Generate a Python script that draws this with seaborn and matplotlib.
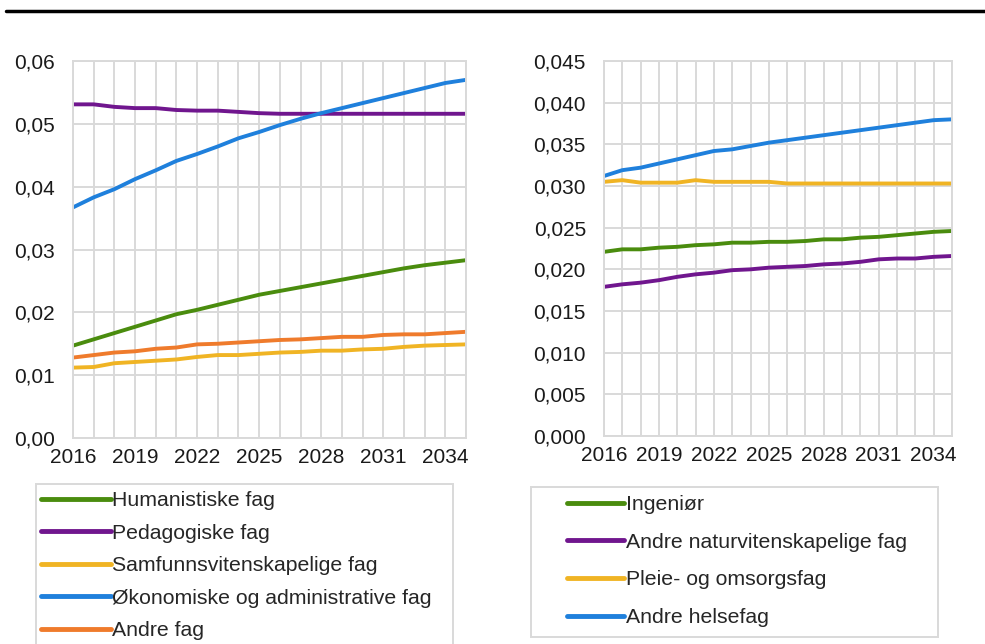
import numpy as np
import pandas as pd
import matplotlib
matplotlib.use("Agg")
import matplotlib.pyplot as plt
import seaborn as sns
from matplotlib.ticker import FuncFormatter, MultipleLocator
from matplotlib.lines import Line2D
from matplotlib.patches import Rectangle

years = list(range(2016, 2036))

# left panel
humanistiske = [0.0147, 0.0157, 0.0167, 0.0177, 0.0187, 0.0197, 0.0204, 0.0212, 0.0220, 0.0228,
                0.0234, 0.0240, 0.0246, 0.0252, 0.0258, 0.0264, 0.0270, 0.0275, 0.0279, 0.0283]
pedagogiske = [0.0531, 0.0531, 0.0527, 0.0525, 0.0525, 0.0522, 0.0521, 0.0521, 0.0519, 0.0517,
               0.0516, 0.0516, 0.0516, 0.0516, 0.0516, 0.0516, 0.0516, 0.0516, 0.0516, 0.0516]
samfunn = [0.0112, 0.0113, 0.0119, 0.0121, 0.0123, 0.0125, 0.0129, 0.0132, 0.0132, 0.0134,
           0.0136, 0.0137, 0.0139, 0.0139, 0.0141, 0.0142, 0.0145, 0.0147, 0.0148, 0.0149]
okonomiske = [0.0367, 0.0383, 0.0396, 0.0412, 0.0426, 0.0441, 0.0452, 0.0464, 0.0477, 0.0487,
              0.0498, 0.0508, 0.0517, 0.0525, 0.0533, 0.0541, 0.0549, 0.0557, 0.0565, 0.0570]
andre_fag = [0.0128, 0.0132, 0.0136, 0.0138, 0.0142, 0.0144, 0.0149, 0.0150, 0.0152, 0.0154,
             0.0156, 0.0157, 0.0159, 0.0161, 0.0161, 0.0164, 0.0165, 0.0165, 0.0167, 0.0169]

# right panel
ingenior = [0.0221, 0.0224, 0.0224, 0.0226, 0.0227, 0.0229, 0.0230, 0.0232, 0.0232, 0.0233,
            0.0233, 0.0234, 0.0236, 0.0236, 0.0238, 0.0239, 0.0241, 0.0243, 0.0245, 0.0246]
naturvit = [0.0179, 0.0182, 0.0184, 0.0187, 0.0191, 0.0194, 0.0196, 0.0199, 0.0200, 0.0202,
            0.0203, 0.0204, 0.0206, 0.0207, 0.0209, 0.0212, 0.0213, 0.0213, 0.0215, 0.0216]
pleie = [0.0305, 0.0307, 0.0304, 0.0304, 0.0304, 0.0307, 0.0305, 0.0305, 0.0305, 0.0305,
         0.0303, 0.0303, 0.0303, 0.0303, 0.0303, 0.0303, 0.0303, 0.0303, 0.0303, 0.0303]
helsefag = [0.0312, 0.0319, 0.0322, 0.0327, 0.0332, 0.0337, 0.0342, 0.0344, 0.0348, 0.0352,
            0.0355, 0.0358, 0.0361, 0.0364, 0.0367, 0.0370, 0.0373, 0.0376, 0.0379, 0.0380]

left_series = {
    "Humanistiske fag": humanistiske,
    "Pedagogiske fag": pedagogiske,
    "Samfunnsvitenskapelige fag": samfunn,
    "Økonomiske og administrative fag": okonomiske,
    "Andre fag": andre_fag,
}
right_series = {
    "Ingeniør": ingenior,
    "Andre naturvitenskapelige fag": naturvit,
    "Pleie- og omsorgsfag": pleie,
    "Andre helsefag": helsefag,
}

GREEN, PURPLE, YELLOW, BLUE, ORANGE = "#4a8c0e", "#70168e", "#f0b424", "#1f80dc", "#ef7b2c"
left_colors = [GREEN, PURPLE, YELLOW, BLUE, ORANGE]
right_colors = [GREEN, PURPLE, YELLOW, BLUE]

sns.set_style("white")
plt.rcParams['font.family'] = ['Liberation Sans', 'DejaVu Sans']

W, H = 985, 644
fig = plt.figure(figsize=(W / 100, H / 100), dpi=100)
ax1 = fig.add_axes([73 / W, 1 - 438 / H, (466 - 73) / W, (438 - 61) / H])
ax2 = fig.add_axes([604 / W, 1 - 436 / H, (952 - 604) / W, (436 - 61) / H])

grid_col = "#d9d9d9"


def draw(ax, series, colors, ymax, ystep, fmt):
    df = pd.DataFrame(series, index=years).reset_index().melt(id_vars="index", var_name="serie", value_name="v")
    sns.lineplot(data=df, x="index", y="v", hue="serie", palette=colors, linewidth=2.8,
                 ax=ax, legend=False)
    ax.set_xlim(2016, 2035)
    ax.set_ylim(0, ymax)
    ax.yaxis.set_major_locator(MultipleLocator(ystep))
    ax.yaxis.set_major_formatter(FuncFormatter(lambda v, p: (fmt % v).replace(".", ",")))
    ax.set_xticks(years)
    ax.set_xticklabels([str(y) if (y - 2016) % 3 == 0 else "" for y in years])
    ax.grid(True, color=grid_col, linewidth=1.4)
    ax.set_axisbelow(True)
    for s in ax.spines.values():
        s.set_color(grid_col)
        s.set_linewidth(1.4)
    ax.tick_params(length=0, labelsize=15, colors="#1a1a1a")
    ax.tick_params(axis="y", pad=13)
    ax.tick_params(axis="x", pad=7)
    ax.set_xlabel("")
    ax.set_ylabel("")


draw(ax1, left_series, left_colors, 0.06, 0.01, "%.2f")
draw(ax2, right_series, right_colors, 0.045, 0.005, "%.3f")

# legend boxes
fig.add_artist(Rectangle((36 / W, -0.05), (453 - 36) / W, 1 - 484 / H + 0.05,
                         transform=fig.transFigure, fill=False, edgecolor=grid_col, linewidth=1.4))
fig.add_artist(Rectangle((531 / W, 1 - 637 / H), (938 - 531) / W, (637 - 487) / H,
                         transform=fig.transFigure, fill=False, edgecolor=grid_col, linewidth=1.4))

h1 = [Line2D([], [], color=c, linewidth=3.5) for c in left_colors]
fig.legend(h1, list(left_series.keys()), loc="upper left",
           bbox_to_anchor=(41 / W, 1 - 491 / H), fontsize=15.3, frameon=False,
           handlelength=3.3, handletextpad=0.05, labelspacing=0.64, borderpad=0, borderaxespad=0)
h2 = [Line2D([], [], color=c, linewidth=3.5) for c in right_colors]
fig.legend(h2, list(right_series.keys()), loc="upper left",
           bbox_to_anchor=(567 / W, 1 - 495 / H), fontsize=15.3, frameon=False,
           handlelength=2.7, handletextpad=0.1, labelspacing=0.88, borderpad=0, borderaxespad=0)

# black rule at top
fig.add_artist(Line2D([6 / W, 1], [1 - 11 / H, 1 - 11 / H], color="black", linewidth=2.5))

fig.savefig("out.png", dpi=100)
